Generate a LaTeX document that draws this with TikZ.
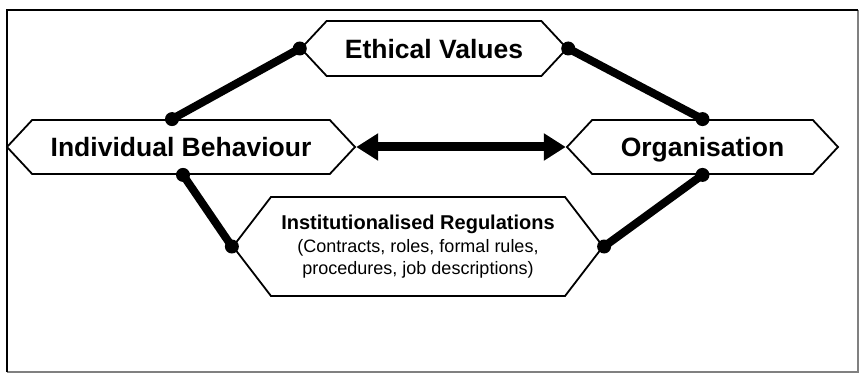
\documentclass[tikz,border=0pt]{standalone}
\usepackage{fontspec}
\setmainfont{Liberation Sans}
\usetikzlibrary{shapes.symbols,arrows.meta}

\tikzset{
    hexbase/.style={draw, line width=1.8pt, signal, signal to=east and west, inner sep=0pt},
    hexa/.style={hexbase, minimum height=54pt, signal pointer angle=94, text depth=0pt,
        font=\fontsize{26.5}{30}\selectfont\bfseries},
    link/.style={line width=8pt},
    dual/.style={line width=9pt, {Triangle[length=22pt,width=26pt]}-{Triangle[length=22pt,width=26pt]}}
}

\begin{document}
\begin{tikzpicture}[x=1pt,y=-1pt]
    \useasboundingbox (0,0) rectangle (861,374);

    %frame
    \draw[gray, line width=1.2pt] (858,10) -- (858,372) -- (7,372);
    \draw[line width=2pt] (7,372) -- (7,10) -- (858,10);

    % hexagons
    \node[hexa, minimum width=266pt, minimum height=55pt] (ev) at (434,48.5) {Ethical Values};
    \node[hexa, minimum width=348pt] (ib) at (181,147) {Individual Behaviour};
    \node[hexa, minimum width=271pt] (org) at (702.5,147) {Organisation};
    \node[hexbase, minimum width=370pt, minimum height=99pt, signal pointer angle=105, align=center,
        font=\fontsize{18}{22}\selectfont] (ir) at (418,246.5)
        {{\fontsize{20}{24}\selectfont\bfseries Institutionalised Regulations}\\[1pt]
         (Contracts, roles, formal rules,\\ procedures, job descriptions)};

    \coordinate (ib-top) at ([xshift=-9pt]ib.north);
    \coordinate (ib-bot) at ([xshift=2pt]ib.south);

    % links
    \draw[link] (ev.west) -- (ib-top);
    \draw[link] (ev.east) -- (org.north);
    \draw[link] (ib-bot) -- (ir.west);
    \draw[link] (org.south) -- (ir.east);
    \draw[dual] (ib.east) -- (org.west);

    %dots
    \foreach \p in {ev.west, ev.east, ib-top, ib-bot, org.north, org.south, ir.west, ir.east}
        \fill (\p) circle (7pt);
\end{tikzpicture}
\end{document}
